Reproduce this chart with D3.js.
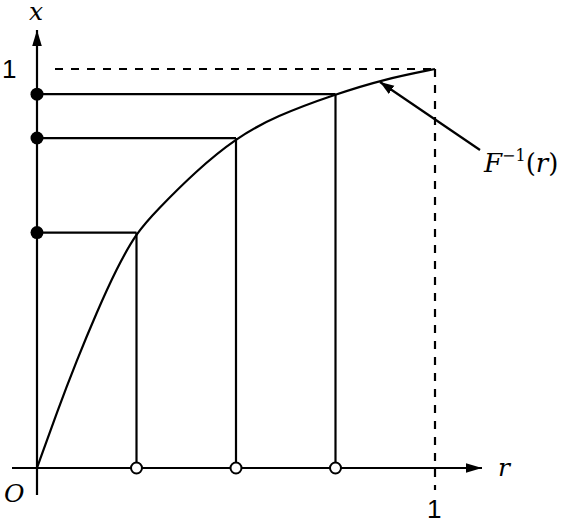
<!DOCTYPE html>
<html><head><meta charset="utf-8">
<script src="https://cdn.jsdelivr.net/npm/d3@7"></script>
<style>body{margin:0;background:#fff}</style></head>
<body><svg id="c" width="578" height="522"></svg>
<script>
const curveR = [0,0.05,0.1,0.15,0.2,0.25,0.3,0.4,0.5,0.6,0.75,0.875,1];
const curveX = [0,0.14,0.27,0.39,0.5,0.59,0.645,0.745,0.827,0.882,0.937,0.975,1];
const samples = [0.25,0.5,0.75];
const sampleX = [0.59,0.827,0.937];

const svg = d3.select("#c");
const sx = d3.scaleLinear().domain([0,1]).range([37,435]);
const sy = d3.scaleLinear().domain([0,1]).range([468,69]);
const defs = svg.append("defs");
defs.append("marker").attr("id","ar").attr("viewBox","0 0 10 10").attr("refX",10).attr("refY",5)
 .attr("markerWidth",14).attr("markerHeight",14).attr("markerUnits","userSpaceOnUse").attr("orient","auto")
 .append("path").attr("d","M0,1.5L10,5L0,8.5Z").attr("fill","#000");
defs.append("marker").attr("id","ar2").attr("viewBox","0 0 10 10").attr("refX",10).attr("refY",5)
 .attr("markerWidth",16).attr("markerHeight",16).attr("markerUnits","userSpaceOnUse").attr("orient","auto")
 .append("path").attr("d","M0,2L10,5L0,8Z").attr("fill","#000");
const k = {stroke:"#000","stroke-width":2.2,fill:"none"};
function line(x1,y1,x2,y2,extra){const l=svg.append("line").attr("x1",x1).attr("y1",y1).attr("x2",x2).attr("y2",y2);
 for(const a in k) l.attr(a,k[a]); if(extra) for(const a in extra) l.attr(a,extra[a]); return l;}
line(12,sy(0),482,sy(0),{"marker-end":"url(#ar2)"});
line(sx(0),495,sx(0),30,{"marker-end":"url(#ar2)"});
line(55,sy(1),sx(1),sy(1),{"stroke-dasharray":"8,8"});
line(sx(1),sy(1),sx(1),490,{"stroke-dasharray":"8,8"});
svg.append("path").datum(curveR.map((r,i)=>[r,curveX[i]]))
 .attr("d",d3.line().x(d=>sx(d[0])).y(d=>sy(d[1])).curve(d3.curveBasis)).attr("stroke","#000").attr("stroke-width",2.2).attr("fill","none");
samples.forEach((r,i)=>{
 line(sx(r),sy(0),sx(r),sy(sampleX[i]));
 line(sx(0),sy(sampleX[i]),sx(r),sy(sampleX[i]));
 svg.append("circle").attr("cx",sx(0)).attr("cy",sy(sampleX[i])).attr("r",6.5).attr("fill","#000");
 svg.append("circle").attr("cx",sx(r)).attr("cy",sy(0)).attr("r",5.5).attr("fill","#fff").attr("stroke","#000").attr("stroke-width",2);
});
line(480,150,380,82,{"marker-end":"url(#ar)"});
const serif = "'DejaVu Serif','Liberation Serif',serif";
const T=(x,y,t,f,s,st)=>svg.append("text").attr("x",x).attr("y",y).attr("font-family",f).attr("font-size",s).attr("font-style",st||"normal").text(t);
T(29,20,"x",serif,25,"italic");
T(498,476,"r",serif,25,"italic");
T(4,502,"O",serif,25,"italic");
T(2,78,"1","'Liberation Sans',sans-serif",26);
T(427,518,"1","'Liberation Sans',sans-serif",26);
const t=svg.append("text").attr("x",484).attr("y",172).attr("font-family",serif).attr("font-size",26);
t.append("tspan").attr("font-style","italic").text("F");
t.append("tspan").attr("dy",-11).attr("font-size",16).text("−1");
t.append("tspan").attr("dy",11).text("(");
t.append("tspan").attr("font-style","italic").text("r");
t.append("tspan").text(")");
</script></body></html>
